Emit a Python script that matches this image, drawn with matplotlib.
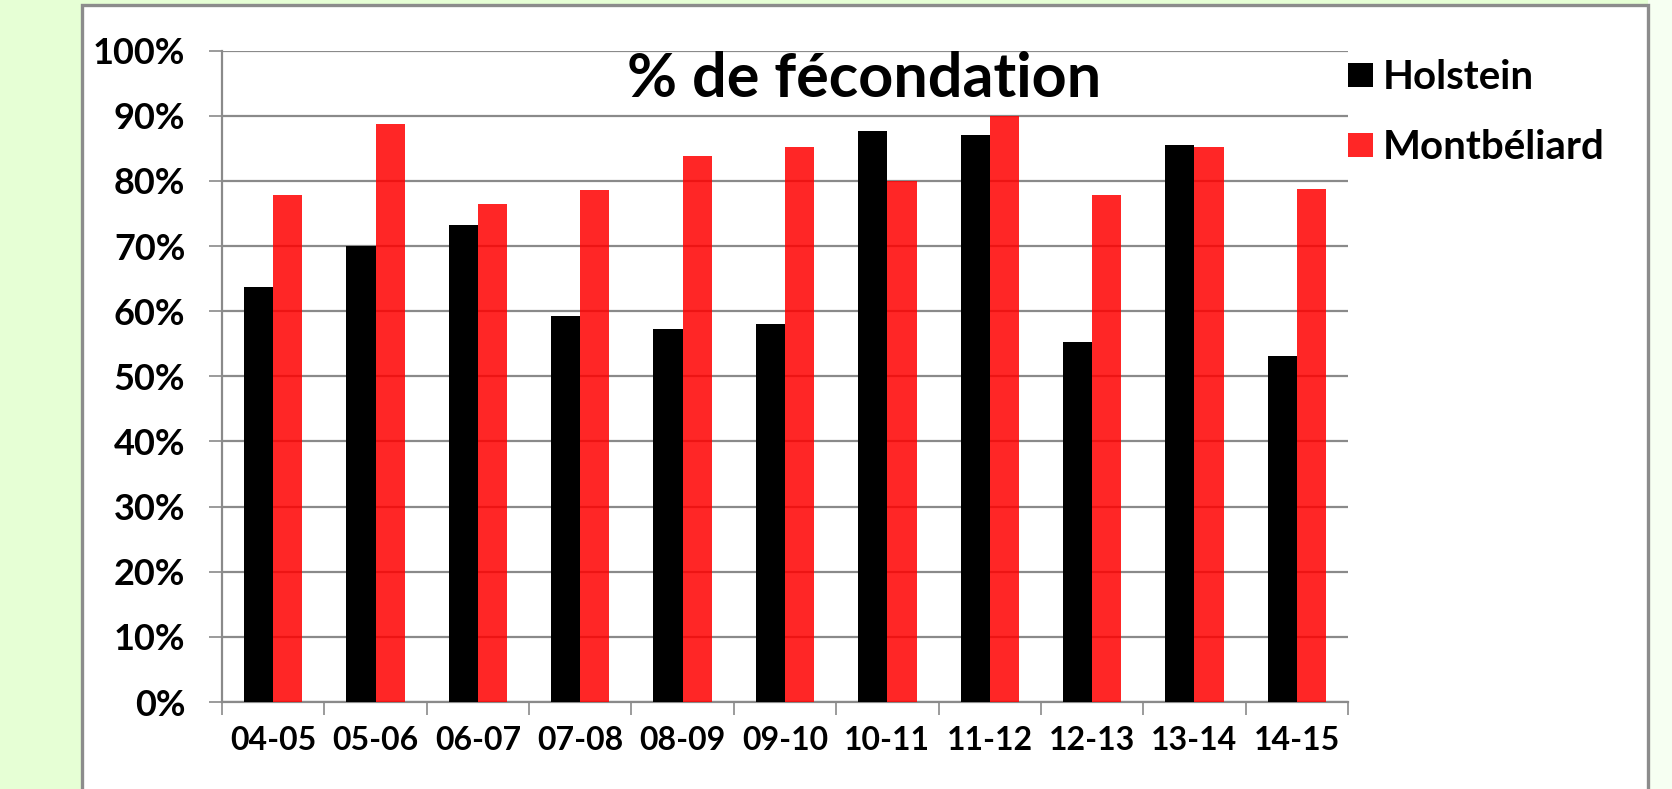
import numpy as np
import matplotlib
matplotlib.use('Agg')
import matplotlib.pyplot as plt
from matplotlib.patches import Rectangle, Patch
from matplotlib.ticker import FixedLocator, PercentFormatter

# data
campaigns = ['04-05', '05-06', '06-07', '07-08', '08-09', '09-10',
             '10-11', '11-12', '12-13', '13-14', '14-15']
holstein = [63.7, 70.0, 73.2, 59.3, 57.3, 58.0, 87.6, 87.1, 55.3, 85.5, 53.2]
montbeliard = [77.8, 88.7, 76.5, 78.6, 83.9, 85.2, 80.0, 89.9, 77.8, 85.2, 78.7]
series_names = ['Holstein', 'Montbéliard']
yticks = list(range(0, 101, 10))

plt.rcParams['font.family'] = ['Lato', 'DejaVu Sans']

W, H = 1672, 789
fig = plt.figure(figsize=(W / 100, H / 100), dpi=100)
fig.patch.set_facecolor('#e6ffd5')

# pale strip right of the frame + white chart panel with grey border
fig.patches.append(Rectangle((1648 / W, 0), 1 - 1648 / W, 1, transform=fig.transFigure,
                             facecolor='#f6fff2', edgecolor='none', zorder=-2))
fig.patches.append(Rectangle((82 / W, -0.05), (1648 - 82) / W, 1.05 - 5 / H,
                             transform=fig.transFigure, facecolor='white',
                             edgecolor='#8c8c8c', linewidth=2.4, zorder=-1))

ax = fig.add_axes([222 / W, 1 - 702 / H, (1348 - 222) / W, (702 - 50.7) / H])
ax.set_facecolor('none')
ax.set_zorder(2)

x = np.arange(len(campaigns))
bw = 0.285
ax.bar(x - bw / 2, holstein, bw, color='black', zorder=3, label=series_names[0])
ax.bar(x + bw / 2, montbeliard, bw, color=(1, 0, 0, 0.85), zorder=3, label=series_names[1])

ax.set_xlim(-0.5, len(campaigns) - 0.5)
ax.set_ylim(0, 100)
ax.yaxis.set_major_locator(FixedLocator(yticks))
ax.yaxis.set_major_formatter(PercentFormatter(decimals=0))
ax.set_xticks(x)
ax.set_xticklabels(campaigns)
ax.set_xticks(np.arange(-0.5, len(campaigns)), minor=True)

ax.grid(axis='y', color='#8a8a8a', linewidth=1.6, zorder=1)
ax.set_axisbelow(True)
for s in ['top', 'right']:
    ax.spines[s].set_visible(False)
for s in ['left', 'bottom']:
    ax.spines[s].set_color('#8a8a8a')
    ax.spines[s].set_linewidth(1.6)

ax.tick_params(axis='y', length=9.4, width=1.2, color='#8a8a8a', pad=17,
               labelsize=26)
ax.tick_params(axis='x', which='major', length=0, pad=17, labelsize=23)
ax.tick_params(axis='x', which='minor', length=9.4, width=1.2, color='#8a8a8a')
for lab in ax.get_xticklabels() + ax.get_yticklabels():
    lab.set_fontweight('bold')

fig.text(864 / W, 1 - 79 / H, '% de fécondation', ha='center', va='center',
         fontsize=44, fontweight='bold')

handles = [Patch(facecolor='black'), Patch(facecolor='#ff2626')]
leg = fig.legend(handles, series_names, loc='upper left',
                 bbox_to_anchor=(1348 / W, 1 - 59 / H), frameon=False,
                 prop={'size': 29, 'weight': 'bold'}, handlelength=0.62,
                 handleheight=0.54, handletextpad=0.25, labelspacing=0.82,
                 borderpad=0, borderaxespad=0)

fig.savefig('out.png', dpi=100, facecolor=fig.get_facecolor())
